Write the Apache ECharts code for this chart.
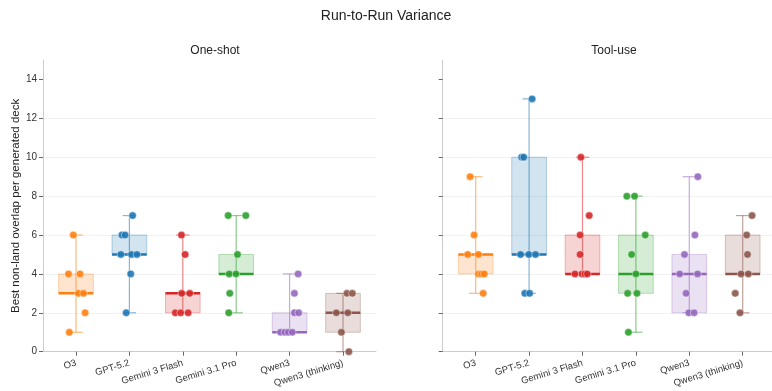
<!DOCTYPE html>
<html><head><meta charset="utf-8">
<script src="https://cdn.jsdelivr.net/npm/echarts@6/dist/echarts.min.js"></script>
<style>html,body{margin:0;padding:0;background:#fff}#c{width:772px;height:391px}</style>
</head><body><div id="c"></div>
<script>
const categories = ['O3', 'GPT-5.2', 'Gemini 3 Flash', 'Gemini 3.1 Pro', 'Qwen3', 'Qwen3 (thinking)'];
const colors = ['#ff7f0e', '#1f77b4', '#d62728', '#2ca02c', '#9467bd', '#8c564b'];
const yTicks = [0, 2, 4, 6, 8, 10, 12, 14];
const xTicks = [0, 1, 2, 3, 4, 5];

// [whiskerLow, Q1, median, Q3, whiskerHigh]
const oneShotBox = [
  [1, 3, 3, 4, 6],
  [2, 5, 5, 6, 7],
  [2, 2, 3, 3, 6],
  [2, 4, 4, 5, 7],
  [1, 1, 1, 2, 4],
  [0, 1, 2, 3, 3]
];
const toolUseBox = [
  [3, 4, 5, 5, 9],
  [3, 5, 5, 10, 13],
  [4, 4, 4, 6, 10],
  [1, 3, 4, 6, 8],
  [2, 2, 4, 5, 9],
  [2, 4, 4, 6, 7]
];

// per-run values and horizontal jitter (category units)
const oneShotValues = [
  [6, 4, 4, 3, 3, 2, 1],
  [7, 6, 6, 5, 5, 5, 4, 2],
  [6, 5, 3, 3, 2, 2, 2],
  [7, 7, 5, 4, 4, 3, 2],
  [4, 3, 2, 2, 1, 1, 1, 1],
  [3, 3, 2, 2, 1, 0]
];
const oneShotJitter = [
  [-0.05, -0.14, 0.075, 0.045, 0.14, 0.17, -0.125],
  [0.06, -0.14, -0.08, -0.16, 0.04, 0.14, 0.025, -0.06],
  [-0.025, 0.044, -0.02, 0.13, -0.14, -0.04, 0.1],
  [-0.15, 0.18, 0.025, -0.13, -0.005, -0.12, -0.14],
  [0.16, 0.09, 0.09, 0.17, -0.17, -0.09, -0.025, 0.05],
  [0.075, 0.175, -0.125, 0.09, -0.03, 0.11]
];
const toolUseValues = [
  [9, 6, 5, 5, 4, 4, 4, 3],
  [13, 10, 10, 5, 5, 5, 3, 3],
  [10, 7, 6, 5, 4, 4, 4, 4],
  [8, 8, 6, 5, 4, 3, 3, 1],
  [9, 6, 5, 4, 4, 3, 2, 2],
  [7, 6, 5, 4, 4, 3, 2]
];
const toolUseJitter = [
  [-0.105, -0.03, -0.15, 0.05, 0.05, 0.11, 0.16, 0.14],
  [0.056, -0.14, -0.1, -0.16, -0.005, 0.12, -0.08, 0.01],
  [-0.03, 0.125, -0.045, -0.045, -0.14, -0.01, 0.045, 0.09],
  [-0.17, -0.025, 0.175, -0.08, 0, -0.155, 0.02, -0.14],
  [0.16, 0.105, -0.09, -0.18, 0.155, -0.06, -0.01, 0.09],
  [0.175, 0.075, 0.09, -0.03, 0.105, -0.14, -0.05]
];

function hexA(hex, a) {
  const n = parseInt(hex.slice(1), 16);
  return 'rgba(' + ((n >> 16) & 255) + ',' + ((n >> 8) & 255) + ',' + (n & 255) + ',' + a + ')';
}

const FONT = 'Liberation Sans';
const BOXW = 0.65, CAPW = 0.25;

function boxSeries(boxes, gi) {
  return {
    type: 'custom', xAxisIndex: gi, yAxisIndex: gi, z: 2,
    data: boxes.map((b, i) => [i].concat(b)),
    renderItem: function (params, api) {
      const i = api.value(0);
      const lo = api.value(1), q1 = api.value(2), md = api.value(3), q3 = api.value(4), hi = api.value(5);
      const c = colors[i];
      const pL = api.coord([i - BOXW / 2, q3]);
      const pR = api.coord([i + BOXW / 2, q1]);
      const cl = api.coord([i - CAPW / 2, lo]);
      const cr = api.coord([i + CAPW / 2, lo]);
      const hl = api.coord([i - CAPW / 2, hi]);
      const hr = api.coord([i + CAPW / 2, hi]);
      const ctr = api.coord([i, lo]);
      const ctop = api.coord([i, hi]);
      const ml = api.coord([i - BOXW / 2, md]);
      const mr = api.coord([i + BOXW / 2, md]);
      return {
        type: 'group',
        children: [
          { type: 'rect', shape: { x: pL[0], y: pL[1], width: pR[0] - pL[0], height: pR[1] - pL[1] },
            style: { fill: hexA(c, 0.2), stroke: hexA(c, 0.3), lineWidth: 1 } },
          { type: 'line', shape: { x1: ctr[0], y1: ctr[1], x2: ctop[0], y2: ctop[1] },
            style: { stroke: hexA(c, 0.55), lineWidth: 1.2 } },
          { type: 'line', shape: { x1: cl[0], y1: cl[1], x2: cr[0], y2: cr[1] },
            style: { stroke: hexA(c, 0.55), lineWidth: 1.2 } },
          { type: 'line', shape: { x1: hl[0], y1: hl[1], x2: hr[0], y2: hr[1] },
            style: { stroke: hexA(c, 0.55), lineWidth: 1.2 } },
          { type: 'line', shape: { x1: ml[0], y1: ml[1], x2: mr[0], y2: mr[1] },
            style: { stroke: c, lineWidth: 2.5 } }
        ]
      };
    }
  };
}

function pointSeries(values, jitter, gi) {
  return values.map((vals, i) => ({
    type: 'scatter', xAxisIndex: gi, yAxisIndex: gi, z: 5,
    symbolSize: 7.5,
    itemStyle: { color: colors[i], opacity: 0.9, borderColor: '#fff', borderWidth: 0.5 },
    data: vals.map((v, k) => [i + jitter[i][k], v])
  }));
}

function xAxis(gi) {
  return {
    type: 'value', gridIndex: gi, min: -0.618, max: 5.618,
    axisLine: { show: true, onZero: false, lineStyle: { color: '#cccccc', width: 1 } },
    axisTick: { show: true, customValues: xTicks, length: 4, lineStyle: { color: '#666' } },
    axisLabel: { customValues: xTicks, rotate: 17, margin: 11, fontSize: 9.5, color: '#333', fontFamily: FONT,
      formatter: v => categories[Math.round(v)] },
    splitLine: { show: false }
  };
}
function yAxis(gi) {
  return {
    type: 'value', gridIndex: gi, min: 0, max: 15,
    name: gi === 0 ? 'Best non-land overlap per generated deck' : '',
    nameLocation: 'middle', nameGap: 21, nameRotate: 90,
    nameTextStyle: { fontSize: 11.5, color: '#222', fontFamily: FONT },
    axisLine: { show: true, onZero: false, lineStyle: { color: '#cccccc', width: 1 } },
    axisTick: { show: true, customValues: yTicks, length: 4, lineStyle: { color: '#666' } },
    axisLabel: { show: gi === 0, customValues: yTicks, fontSize: 10, color: '#333', margin: 6, fontFamily: FONT },
    splitLine: { show: true, showMaxLine: false, lineStyle: { color: '#eeeeee', width: 0.8 } }
  };
}

const chart = echarts.init(document.getElementById('c'), null, { renderer: 'canvas' });
chart.setOption({
  backgroundColor: '#fff',
  animation: false,
  textStyle: { fontFamily: FONT },
  title: [
    { text: 'Run-to-Run Variance', left: 'center', top: 4, textStyle: { fontSize: 14, fontWeight: 'normal', color: '#222', fontFamily: FONT } },
    { text: 'One-shot', left: 210, textAlign: 'center', top: 40, textStyle: { fontSize: 12, fontWeight: 'normal', color: '#222', fontFamily: FONT } },
    { text: 'Tool-use', left: 609, textAlign: 'center', top: 40, textStyle: { fontSize: 12, fontWeight: 'normal', color: '#222', fontFamily: FONT } }
  ],
  grid: [
    { left: 43, top: 60, width: 333, height: 291.7, containLabel: false, outerBoundsMode: 'none' },
    { left: 442.7, top: 60, width: 333, height: 291.7, containLabel: false, outerBoundsMode: 'none' }
  ],
  xAxis: [xAxis(0), xAxis(1)],
  yAxis: [yAxis(0), yAxis(1)],
  series: [
    boxSeries(oneShotBox, 0),
    boxSeries(toolUseBox, 1)
  ].concat(pointSeries(oneShotValues, oneShotJitter, 0), pointSeries(toolUseValues, toolUseJitter, 1))
});
</script></body></html>
